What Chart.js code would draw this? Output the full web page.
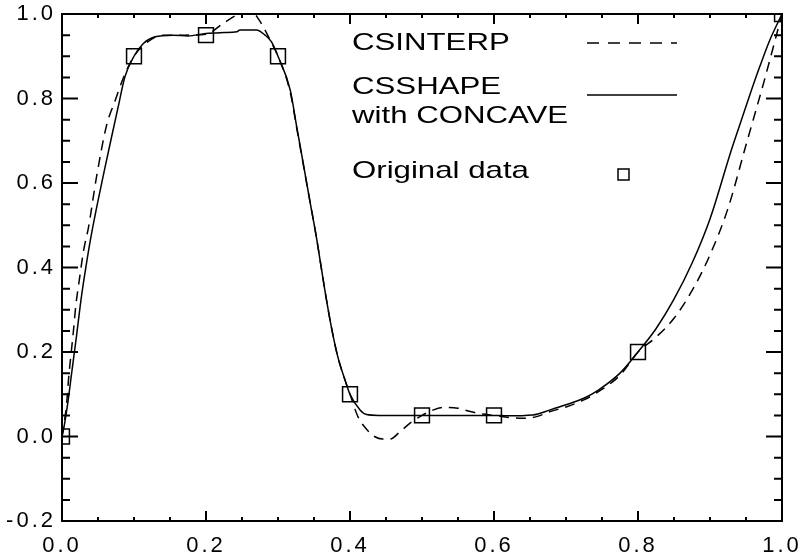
<!DOCTYPE html>
<html>
<head>
<meta charset="utf-8">
<style>
  body { margin: 0; background: #fff; }
  canvas { display: block; }
</style>
</head>
<body>
  <canvas id="splineChart" width="802" height="558"></canvas>

  <script src="https://cdn.jsdelivr.net/npm/chart.js"></script>
  <script>
    // CSINTERP (dashed)
    var interpX = [0, 0.0065, 0.009, 0.016, 0.019, 0.024, 0.030, 0.037, 0.048, 0.062, 0.074, 0.085, 0.1, 0.12, 0.14, 0.17, 0.2,
      0.224, 0.243, 0.255, 0.265, 0.273, 0.282, 0.29, 0.3, 0.317, 0.326, 0.335, 0.344, 0.354, 0.365, 0.374, 0.383, 0.393, 0.4,
      0.411, 0.423, 0.434, 0.445, 0.456, 0.468, 0.483, 0.5, 0.516, 0.532, 0.55, 0.567, 0.585, 0.6, 0.622, 0.64, 0.659, 0.678,
      0.70, 0.724, 0.745, 0.775, 0.8, 0.825, 0.85, 0.875, 0.9, 0.925, 0.95, 0.975, 1.0];
    var interpY = [0, 0.079, 0.134, 0.252, 0.307, 0.37, 0.44, 0.497, 0.615, 0.737, 0.796, 0.848, 0.9, 0.935, 0.95, 0.95, 0.952,
      0.978, 0.998, 1.006, 1.004, 0.988, 0.962, 0.935, 0.9, 0.815, 0.73, 0.645, 0.56, 0.465, 0.347, 0.26, 0.189, 0.134, 0.1,
      0.047, 0.017, 0.0, -0.006, -0.006, 0.009, 0.031, 0.05, 0.063, 0.069, 0.067, 0.059, 0.053, 0.05, 0.045, 0.043, 0.047, 0.059,
      0.07, 0.086, 0.106, 0.145, 0.2, 0.235, 0.28, 0.345, 0.43, 0.54, 0.69, 0.84, 1.0];

    // CSSHAPE with CONCAVE (solid)
    var shapeX = [0, 0.002, 0.008, 0.0134, 0.02, 0.027, 0.034, 0.042, 0.059, 0.069, 0.078, 0.0875, 0.1, 0.113, 0.129, 0.154,
      0.175, 0.2, 0.225, 0.243, 0.247, 0.27, 0.282, 0.291, 0.3, 0.317, 0.326, 0.335, 0.344, 0.354, 0.365, 0.374, 0.383, 0.393,
      0.4, 0.414, 0.423, 0.44, 0.5, 0.55, 0.6, 0.618, 0.654, 0.678, 0.70, 0.724, 0.745, 0.775, 0.8, 0.825, 0.85, 0.875, 0.9,
      0.93, 0.942, 0.956, 0.969, 0.983, 1.0];
    var shapeY = [0, 0.015, 0.079, 0.15, 0.236, 0.331, 0.41, 0.489, 0.631, 0.71, 0.78, 0.852, 0.9, 0.93, 0.946, 0.95,
      0.948, 0.954, 0.956, 0.958, 0.962, 0.962, 0.95, 0.934, 0.9, 0.82, 0.733, 0.647, 0.56, 0.465, 0.347, 0.26, 0.189, 0.134,
      0.1, 0.063, 0.052, 0.05, 0.05, 0.05, 0.05, 0.049, 0.051, 0.063, 0.075, 0.09, 0.11, 0.15, 0.2, 0.255, 0.325, 0.41, 0.515,
      0.68, 0.741, 0.812, 0.875, 0.938, 1.0];

    // original data
    var origX = [0, 0.1, 0.2, 0.3, 0.4, 0.5, 0.6, 0.8, 1.0];
    var origY = [0, 0.9, 0.95, 0.9, 0.1, 0.05, 0.05, 0.2, 1.0];

    // axis ticks
    var xMajorTicks = [0, 0.2, 0.4, 0.6, 0.8, 1.0];
    var xMinorTicks = [0.05, 0.1, 0.15, 0.25, 0.3, 0.35, 0.45, 0.5, 0.55, 0.65, 0.7, 0.75, 0.85, 0.9, 0.95];
    var yMajorTicks = [-0.2, 0, 0.2, 0.4, 0.6, 0.8, 1.0];
    var yMinorTicks = [-0.15, -0.1, -0.05, 0.05, 0.1, 0.15, 0.25, 0.3, 0.35, 0.45, 0.5, 0.55, 0.65, 0.7, 0.75, 0.85, 0.9, 0.95];

    var legendLabels = ['CSINTERP', 'CSSHAPE', 'with CONCAVE', 'Original data'];

    function toPoints(xs, ys) {
      return xs.map(function (x, i) { return {x: x, y: ys[i]}; });
    }

    function tickText(v) {
      if (Math.abs(v) < 1e-9) v = 0;
      return v.toFixed(1);
    }

    // inward ticks on all four sides + box
    var boxTicks = {
      id: 'boxTicks',
      beforeDraw: function (chart) {
        chart.ctx.letterSpacing = '3px';
      },
      afterDraw: function (chart) {
        var ctx = chart.ctx, a = chart.chartArea, xs = chart.scales.x, ys = chart.scales.y;
        ctx.save();
        ctx.strokeStyle = '#000';
        ctx.lineWidth = 2;
        ctx.strokeRect(a.left, a.top, a.right - a.left, a.bottom - a.top);
        ctx.beginPath();
        function xTick(v, len) {
          var px = xs.getPixelForValue(v);
          ctx.moveTo(px, a.bottom); ctx.lineTo(px, a.bottom - len);
          ctx.moveTo(px, a.top); ctx.lineTo(px, a.top + len);
        }
        function yTick(v, len) {
          var py = ys.getPixelForValue(v);
          ctx.moveTo(a.left, py); ctx.lineTo(a.left + len, py);
          ctx.moveTo(a.right, py); ctx.lineTo(a.right - len, py);
        }
        xMajorTicks.forEach(function (v) { xTick(v, 10); });
        xMinorTicks.forEach(function (v) { xTick(v, 4); });
        yMajorTicks.forEach(function (v) { yTick(v, 16); });
        yMinorTicks.forEach(function (v) { yTick(v, 8); });
        ctx.stroke();
        ctx.restore();
      }
    };

    // legend drawn inside the plot, text left and sample right
    var insideLegend = {
      id: 'insideLegend',
      afterDraw: function (chart) {
        var ctx = chart.ctx;
        ctx.save();
        ctx.letterSpacing = '0px';
        ctx.fillStyle = '#000';
        ctx.font = '24px "Liberation Sans", Arial, sans-serif';
        ctx.textBaseline = 'alphabetic';
        ctx.textAlign = 'left';
        function label(text, x, y) {
          ctx.save();
          ctx.translate(x, y);
          ctx.scale(1.3, 1);
          ctx.fillText(text, 0, 0);
          ctx.restore();
        }
        label(legendLabels[0], 352, 50);
        label(legendLabels[1], 352, 94);
        label(legendLabels[2], 352, 123);
        label(legendLabels[3], 352, 178);

        ctx.strokeStyle = '#000';
        ctx.lineWidth = 1.5;
        ctx.setLineDash([12, 9]);
        ctx.beginPath(); ctx.moveTo(587, 43); ctx.lineTo(677, 43); ctx.stroke();
        ctx.setLineDash([]);
        ctx.beginPath(); ctx.moveTo(587, 95); ctx.lineTo(677, 95); ctx.stroke();
        ctx.strokeRect(618, 169, 11, 11);
        ctx.restore();
      }
    };

    var ctx = document.getElementById('splineChart').getContext('2d');
    var chart = new Chart(ctx, {
      type: 'line',
      data: {
        datasets: [{
          label: 'CSINTERP',
          data: toPoints(interpX, interpY),
          borderColor: '#000',
          borderWidth: 1.5,
          borderDash: [10, 7],
          pointRadius: 0,
          fill: false,
          cubicInterpolationMode: 'monotone'
        }, {
          label: 'CSSHAPE with CONCAVE',
          data: toPoints(shapeX, shapeY),
          borderColor: '#000',
          borderWidth: 1.5,
          pointRadius: 0,
          fill: false,
          cubicInterpolationMode: 'monotone'
        }, {
          label: 'Original data',
          data: toPoints(origX, origY),
          showLine: false,
          pointStyle: 'rect',
          pointRadius: 10.5,
          pointBorderWidth: 1.5,
          pointBorderColor: '#000',
          pointBackgroundColor: 'rgba(0,0,0,0)'
        }]
      },
      options: {
        responsive: false,
        animation: false,
        layout: { padding: { top: 14, right: 20, left: 0, bottom: 0 } },
        plugins: { legend: { display: false }, tooltip: { enabled: false } },
        scales: {
          x: {
            type: 'linear',
            min: 0,
            max: 1,
            grid: { display: false, drawTicks: false },
            border: { display: false },
            afterFit: function (s) {
              s.height = 37;
              s.paddingLeft = 0;
              s.paddingRight = 0;
            },
            ticks: {
              stepSize: 0.2,
              padding: 12,
              color: '#000',
              maxRotation: 0,
              font: { family: '"Liberation Sans", Arial, sans-serif', size: 22 },
              callback: tickText
            }
          },
          y: {
            min: -0.2,
            max: 1.0,
            grid: { display: false, drawTicks: false },
            border: { display: false },
            afterFit: function (s) {
              s.width = 62;
              s.paddingTop = 0;
              s.paddingBottom = 0;
            },
            ticks: {
              stepSize: 0.2,
              padding: 6,
              color: '#000',
              font: { family: '"Liberation Sans", Arial, sans-serif', size: 22 },
              callback: tickText
            }
          }
        }
      },
      plugins: [boxTicks, insideLegend]
    });
  </script>
</body>
</html>
